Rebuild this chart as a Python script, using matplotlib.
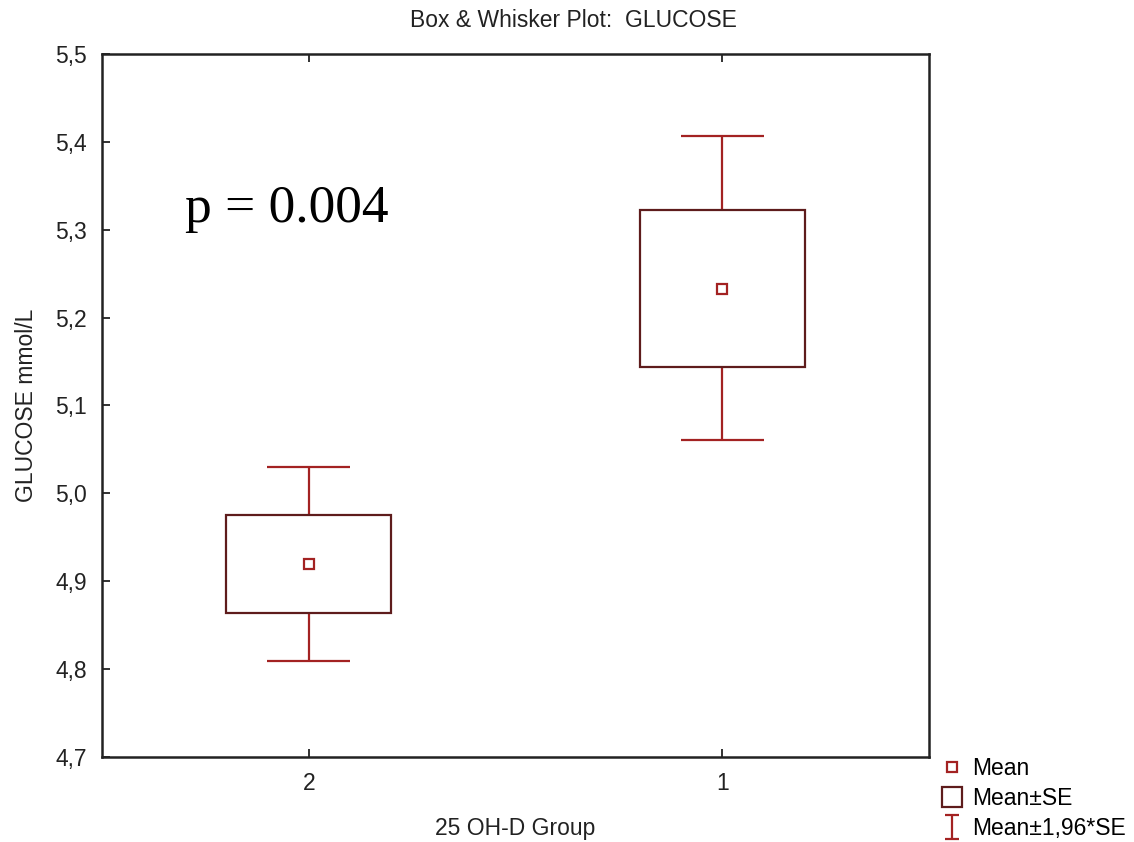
import matplotlib.pyplot as plt
from matplotlib.lines import Line2D
from matplotlib.path import Path

# glucose by 25 OH-D group: mean, mean±SE, mean±1.96*SE
groups = ["2", "1"]
means = [4.920, 5.233]
se_lo = [4.864, 5.144]
se_hi = [4.975, 5.322]
ci_lo = [4.809, 5.061]
ci_hi = [5.030, 5.407]

box_col = "#5e1c1c"
whisk_col = "#a32222"
fs = 16.5

plt.rcParams['font.family'] = ['Liberation Sans', 'DejaVu Sans']

fig = plt.figure(figsize=(11.34, 8.42), dpi=100)
ax = fig.add_axes([0.0899, 0.1010, 0.7293, 0.8349])

pos = list(range(len(groups)))

# SE boxes
ax.bar(pos, [h - l for h, l in zip(se_hi, se_lo)], bottom=se_lo, width=0.4,
       fill=False, edgecolor=box_col, linewidth=1.6, zorder=3)

# whiskers from box edges out to the 1.96*SE caps
ax.vlines(pos, se_hi, ci_hi, color=whisk_col, linewidth=1.6, zorder=2)
ax.vlines(pos, ci_lo, se_lo, color=whisk_col, linewidth=1.6, zorder=2)
ax.hlines(ci_hi, [p - 0.1 for p in pos], [p + 0.1 for p in pos], color=whisk_col, linewidth=1.6)
ax.hlines(ci_lo, [p - 0.1 for p in pos], [p + 0.1 for p in pos], color=whisk_col, linewidth=1.6)

# mean markers
ax.plot(pos, means, ls='none', marker='s', ms=7, mfc='white', mec=whisk_col, mew=1.6, zorder=4)

ax.set_xlim(-0.5, 1.5)
ax.set_ylim(4.7, 5.5)
ax.set_xticks(pos)
ax.set_xticklabels(groups)
yt = [4.7, 4.8, 4.9, 5.0, 5.1, 5.2, 5.3, 5.4, 5.5]
ax.set_yticks(yt)
ax.set_yticklabels([("%.1f" % v).replace(".", ",") for v in yt])
ax.tick_params(axis='both', direction='in', length=6, width=1.3, labelsize=fs, colors='#222222')
ax.tick_params(axis='x', top=True, pad=11)
ax.tick_params(axis='y', pad=11)
for s in ax.spines.values():
    s.set_linewidth(1.8)
    s.set_color('#222222')

ax.set_xlabel("25 OH-D Group", fontsize=fs, color='#222222', labelpad=16)
ax.set_ylabel("GLUCOSE mmol/L", fontsize=fs, color='#222222', labelpad=12)
fig.text(0.506, 0.976, "Box & Whisker Plot:  GLUCOSE", ha='center', va='center',
         fontsize=fs, color='#222222')

ax.text(0.1, 0.761, "p = 0.004", transform=ax.transAxes, fontsize=38.5,
        family='Liberation Serif', ha='left', va='baseline')

# legend: I-shaped marker for the 1.96*SE whiskers
ibar = Path([(-0.6, -1), (0.6, -1), (0, -1), (0, 1), (-0.6, 1), (0.6, 1)],
            [Path.MOVETO, Path.LINETO, Path.MOVETO, Path.LINETO, Path.MOVETO, Path.LINETO])
handles = [
    Line2D([], [], ls='none', marker='s', ms=7, mfc='white', mec=whisk_col, mew=1.6),
    Line2D([], [], ls='none', marker='s', ms=15, mfc='white', mec=box_col, mew=1.6),
    Line2D([], [], ls='none', marker=ibar, ms=17, mfc='none', mec=whisk_col, mew=1.6),
]
fig.legend(handles, ["Mean", "Mean±SE", "Mean±1,96*SE"], loc='upper left',
           bbox_to_anchor=(0.815, 0.12), frameon=False, fontsize=fs,
           handlelength=1.0, handletextpad=0.4, labelspacing=0.3, borderpad=0.2)

fig.savefig("out.png", dpi=100)
